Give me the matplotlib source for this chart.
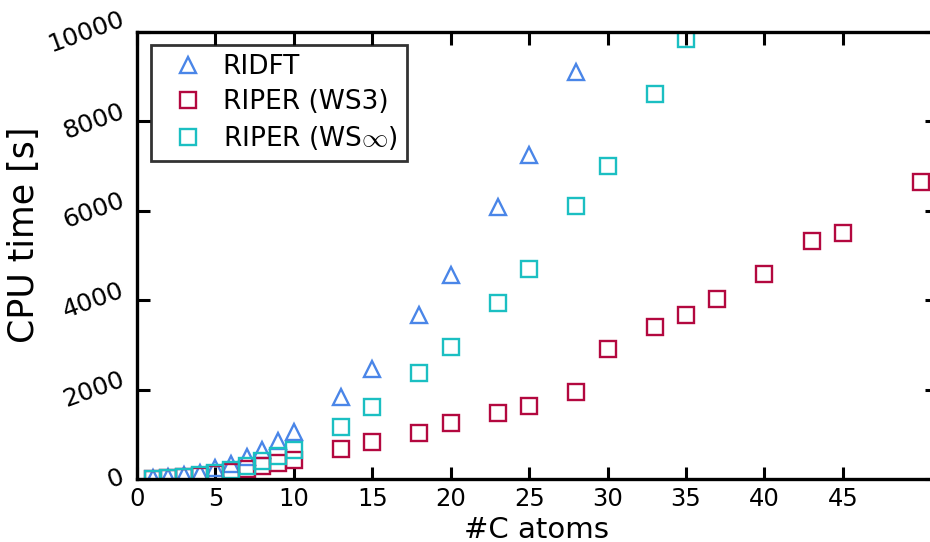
import matplotlib
matplotlib.use("Agg")
import matplotlib.pyplot as plt

# RIDFT
ridft_x = [1, 2, 3, 4, 5, 6, 7, 8, 9, 10, 13, 15, 18, 20, 23, 25, 28]
ridft_y = [15, 40, 80, 140, 235, 340, 490, 640, 840, 1050, 1830, 2470, 3680, 4560, 6080, 7240, 9100]

# RIPER (WS3)
ws3_x = [1, 2, 3, 4, 5, 6, 7, 8, 9, 10, 13, 15, 18, 20, 23, 25, 28, 30, 33, 35, 37, 40, 43, 45, 50]
ws3_y = [10, 20, 40, 70, 110, 160, 220, 290, 360, 425, 670, 820, 1020, 1258, 1468, 1638, 1937, 2905,
         3397, 3665, 4030, 4590, 5318, 5495, 6645]

# RIPER (WS_inf)
wsinf_x = [1, 2, 3, 4, 5, 6, 7, 8, 9, 10, 13, 15, 18, 20, 23, 25, 28, 30, 33, 35]
wsinf_y = [10, 25, 50, 80, 130, 200, 297, 402, 514, 652, 1169, 1602, 2376, 2957, 3940, 4708, 6107,
           6994, 8603, 9850]

xticks = [0, 5, 10, 15, 20, 25, 30, 35, 40, 45]
yticks = [0, 2000, 4000, 6000, 8000, 10000]

c_blue = "#4a86e8"
c_red = "#b3083f"
c_cyan = "#1bbfc2"

plt.rcParams["mathtext.fontset"] = "cm"

fig = plt.figure(figsize=(9.3, 5.42), dpi=100)
ax = fig.add_axes([137 / 930, 63 / 542, 800 / 930, 447 / 542])

ax.plot(ridft_x, ridft_y, linestyle="none", marker="^", markersize=12, markerfacecolor="none",
        markeredgecolor=c_blue, markeredgewidth=1.7, label="RIDFT")
ax.plot(ws3_x, ws3_y, linestyle="none", marker="s", markersize=11, markerfacecolor="none",
        markeredgecolor=c_red, markeredgewidth=1.7, label="RIPER (WS3)")
ax.plot(wsinf_x, wsinf_y, linestyle="none", marker="s", markersize=11, markerfacecolor="none",
        markeredgecolor=c_cyan, markeredgewidth=1.7, label=r"RIPER (WS$\infty$)")

ax.set_xlim(0, 51)
ax.set_ylim(0, 10000)
ax.set_xticks(xticks)
ax.set_yticks(yticks)
ax.tick_params(direction="in", length=9, width=2.2, top=True, right=True)
ax.tick_params(axis="x", labelsize=17.5, pad=6)
ax.tick_params(axis="y", labelsize=18, pad=7)
for lab in ax.get_yticklabels():
    lab.set_rotation(20)
    lab.set_rotation_mode("default")
    lab.set_verticalalignment("center")
for sp in ax.spines.values():
    sp.set_linewidth(2.4)

ax.set_xlabel("#C atoms", fontsize=21, labelpad=3)
ax.set_ylabel("CPU time [s]", fontsize=25)
ax.yaxis.set_label_coords(-0.12, 0.546)

leg = ax.legend(loc="upper left", bbox_to_anchor=(0.0175, 0.971), borderaxespad=0, fontsize=19,
                frameon=True, fancybox=False, edgecolor="black", numpoints=1,
                handletextpad=0.25, borderpad=0.36, labelspacing=0.33, handlelength=2.1)
leg.get_frame().set_linewidth(2.0)

fig.savefig("out.png", dpi=100)
